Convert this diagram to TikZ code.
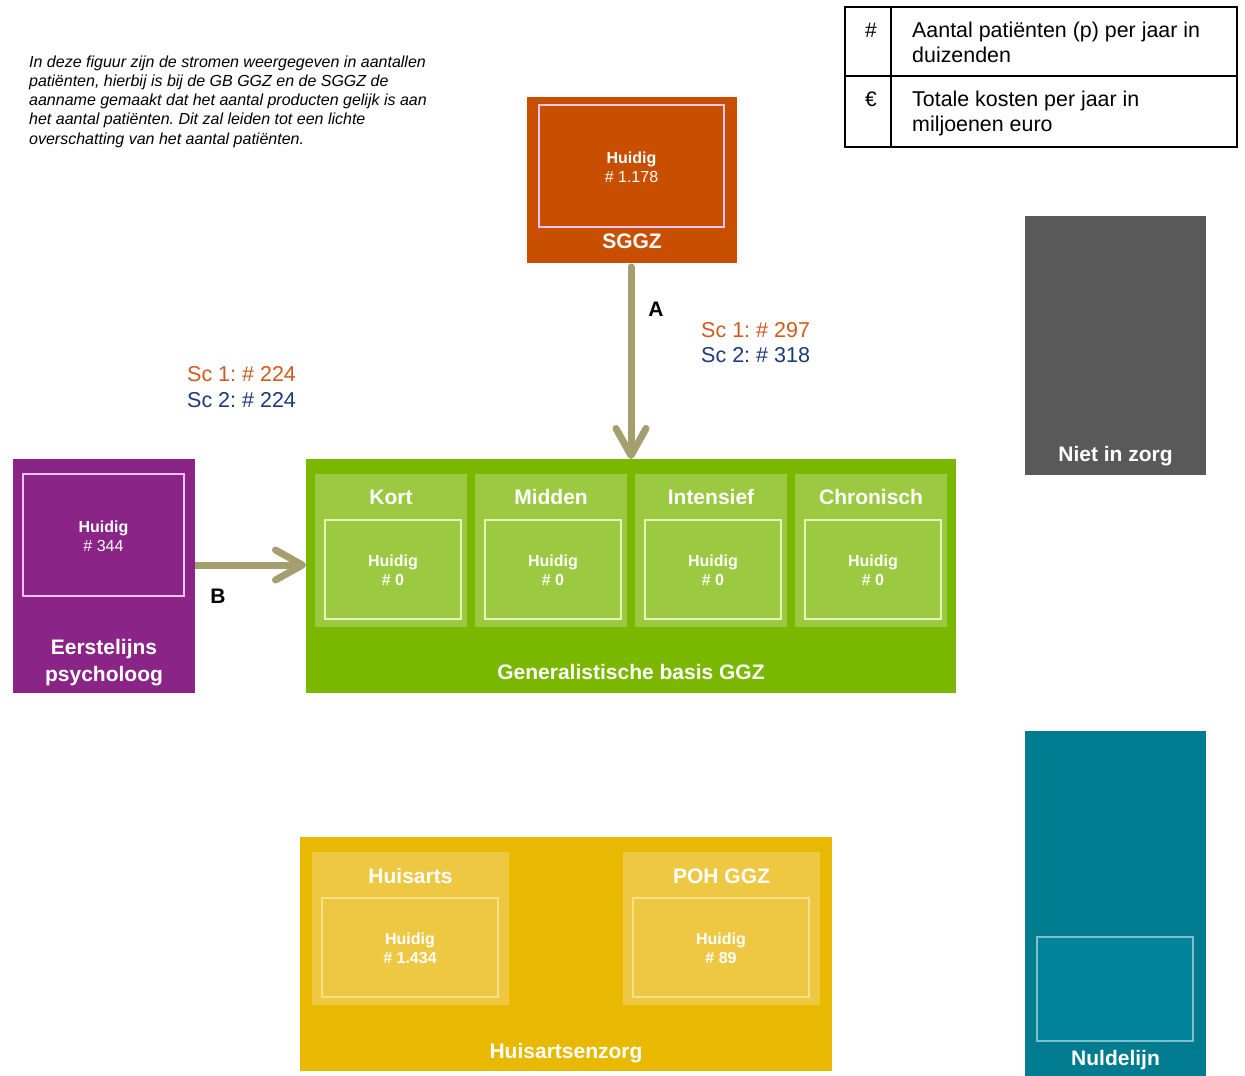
\documentclass[tikz,border=0pt]{standalone}
\usepackage{fontspec}
\setmainfont{Liberation Sans}
\usetikzlibrary{arrows.meta}
\frenchspacing
\definecolor{sggzc}{HTML}{C94F00}
\definecolor{purplec}{HTML}{8B2487}
\definecolor{greenc}{HTML}{7AB800}
\definecolor{greenl}{HTML}{9BCA42}
\definecolor{greenb}{HTML}{E6F6B8}
\definecolor{yellowc}{HTML}{E9B800}
\definecolor{yellowl}{HTML}{EFC843}
\definecolor{yellowb}{HTML}{F9E08C}
\definecolor{greyc}{HTML}{595959}
\definecolor{tealc}{HTML}{007B8F}
\definecolor{teall}{HTML}{00839B}
\definecolor{tealb}{HTML}{7FBFCB}
\definecolor{flowc}{HTML}{A59E6F}
\definecolor{sconec}{HTML}{D15A1A}
\definecolor{sctwoc}{HTML}{1B3A7C}
\definecolor{pinkb}{HTML}{F2C4EE}
\tikzset{
  blk/.style={rectangle, inner sep=0pt, outer sep=0pt},
  inrect/.style={blk, line width=2.5pt},
  boxtext/.style={text=white, align=center, font=\fontsize{16}{19}\selectfont, inner sep=0pt},
  title/.style={text=white, align=center, font=\fontsize{21}{27}\selectfont\bfseries, inner sep=0pt},
  sclab/.style={anchor=west, inner sep=0pt, font=\fontsize{21.5}{25}\selectfont},
  letter/.style={inner sep=0pt, font=\fontsize{21}{25}\selectfont\bfseries},
  flow/.style={draw=flowc, line width=7pt, line cap=round, -{Straight Barb[round, length=27pt, width=30pt, line width=7pt]}},
  legtext/.style={anchor=west, align=left, inner sep=0pt, font=\fontsize{21.4}{25}\selectfont}
}
\begin{document}
\begin{tikzpicture}[x=1pt, y=-1pt]
\useasboundingbox (0,0) rectangle (1245,1076);

% note text
\node[anchor=west, align=left, inner sep=0pt, font=\fontsize{16}{19.3}\selectfont\itshape] (note) at (29,101.5)
 {In deze figuur zijn de stromen weergegeven in aantallen\\
  patiënten, hierbij is bij de GB GGZ en de SGGZ de\\
  aanname gemaakt dat het aantal producten gelijk is aan\\
  het aantal patiënten. Dit zal leiden tot een lichte\\
  overschatting van het aantal patiënten.};

% legend
\node[blk, draw=black, line width=1.2pt, minimum width=392pt, minimum height=140pt] (legend) at (1041,77) {};
\coordinate (lv) at (891,7);
\coordinate (lh) at (845,76);
\draw[line width=1.2pt] (lv) -- (lv |- legend.south);
\draw[line width=1.2pt] (lh) -- (lh -| legend.east);
\node[inner sep=0pt, font=\fontsize{21}{25}\selectfont] (hash) at (871,30) {\#};
\node[inner sep=0pt, font=\fontsize{21}{25}\selectfont] (euro) at (871,99) {€};
\node[legtext] (legone) at (912,42.5) {Aantal patiënten (p) per jaar in\\duizenden};
\node[legtext] (legtwo) at (912,113) {Totale kosten per jaar in\\miljoenen euro};

% SGGZ
\node[blk, fill=sggzc, minimum width=210pt, minimum height=166pt] (sggz) at (632,180) {};
\node[inrect, draw=pinkb, minimum width=185pt, minimum height=122pt] (sggzin) at (631.5,166) {};
\node[boxtext] (sggzt) at (631.5,167) {\textbf{Huidig}\\\# 1.178};
\node[title] (sggzl) at (632,241) {SGGZ};

% Niet in zorg
\node[blk, fill=greyc, minimum width=181pt, minimum height=259pt] (niz) at (1115.5,345.5) {};
\node[title] (nizl) at (1115.5,456) {Niet in zorg};

% Eerstelijns psycholoog
\node[blk, fill=purplec, minimum width=182pt, minimum height=234pt] (ep) at (104,576) {};
\node[inrect, draw=pinkb, minimum width=161pt, minimum height=122pt] (epin) at (103.5,535) {};
\node[boxtext] (ept) at (103.5,536) {\textbf{Huidig}\\\# 344};
\node[title] (epl) at (104,663) {Eerstelijns\\psycholoog};

% Generalistische basis GGZ
\node[blk, fill=greenc, minimum width=650pt, minimum height=234pt] (ggz) at (631,576) {};
\foreach \n/\x/\t in {kort/391/Kort, midden/551/Midden, intensief/711/Intensief, chronisch/871/Chronisch}{
  \node[blk, fill=greenl, minimum width=152pt, minimum height=153pt] (\n) at (\x,550.5) {};
  \node[inrect, draw=greenb, minimum width=136pt, minimum height=99pt] (\n in) at (\x+2,569.5) {};
  \node[title] (\n l) at (\x,497) {\t};
  \node[boxtext, font=\fontsize{16}{19}\selectfont\bfseries] (\n t) at (\x+2,570) {Huidig\\\# 0};
}
\node[title] (ggzl) at (631,672) {Generalistische basis GGZ};

% Huisartsenzorg
\node[blk, fill=yellowc, minimum width=532pt, minimum height=234pt] (hz) at (566,954) {};
\node[blk, fill=yellowl, minimum width=197pt, minimum height=153pt] (ha) at (410.5,928.5) {};
\node[blk, fill=yellowl, minimum width=197pt, minimum height=153pt] (poh) at (721.5,928.5) {};
\node[inrect, draw=yellowb, minimum width=176pt, minimum height=99pt] (hain) at (410,947.5) {};
\node[inrect, draw=yellowb, minimum width=176pt, minimum height=99pt] (pohin) at (721,947.5) {};
\node[title] (hal) at (410.5,876) {Huisarts};
\node[title] (pohl) at (721.5,876) {POH GGZ};
\node[boxtext, font=\fontsize{16}{19}\selectfont\bfseries] (hat) at (410,948) {Huidig\\\# 1.434};
\node[boxtext, font=\fontsize{16}{19}\selectfont\bfseries] (poht) at (721,948) {Huidig\\\# 89};
\node[title] (hzl) at (566,1053) {Huisartsenzorg};

% Nuldelijn
\node[blk, fill=tealc, minimum width=181pt, minimum height=350pt] (nul) at (1115.5,906) {};
\node[inrect, fill=teall, draw=tealb, line width=2pt, minimum width=156pt, minimum height=104pt] (nulin) at (1115,989) {};
\node[title] (null) at (1115.5,1060.5) {Nuldelijn};

% flows
\draw[flow, shorten <=4pt] (ggz.north |- sggz.south) -- (ggz.north);
\coordinate (bline) at (0,565);
\draw[flow, line cap=butt] (ep.east |- bline) -- (ggz.west |- bline);
\node[letter] (la) at (656,309) {A};
\node[letter] (lb) at (218,596) {B};

% scenario labels
\node[sclab, text=sconec] (aone) at (701,330) {Sc 1: \# 297};
\node[sclab, text=sctwoc] (atwo) at (701,355) {Sc 2: \# 318};
\node[sclab, text=sconec] (bone) at (187,374) {Sc 1: \# 224};
\node[sclab, text=sctwoc] (btwo) at (187,400) {Sc 2: \# 224};
\end{tikzpicture}
\end{document}
